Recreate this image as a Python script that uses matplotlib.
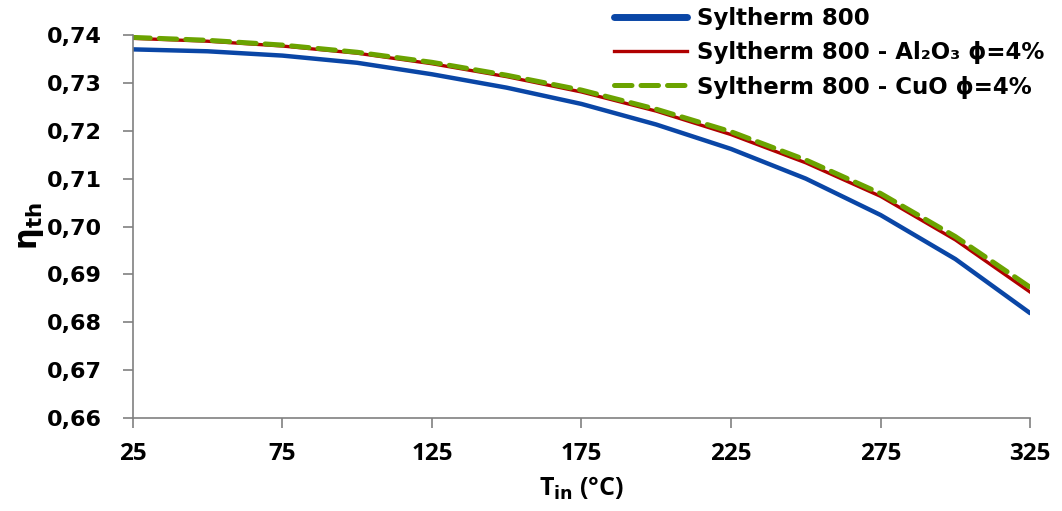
import matplotlib
matplotlib.use("Agg")
import matplotlib.pyplot as plt

# inlet temperature (°C)
t_in = [25, 50, 75, 100, 125, 150, 175, 200, 225, 250, 275, 300, 325]

# thermal efficiency
eta_syltherm = [0.7370, 0.7366, 0.7357, 0.7342, 0.7318, 0.7290, 0.7256,
                0.7213, 0.7162, 0.7100, 0.7024, 0.6932, 0.6819]
eta_al2o3 = [0.7393, 0.7387, 0.7377, 0.7362, 0.7340, 0.7313, 0.7281,
             0.7241, 0.7192, 0.7133, 0.7063, 0.6972, 0.6863]
eta_cuo = [0.7395, 0.7389, 0.7379, 0.7364, 0.7343, 0.7316, 0.7285,
           0.7245, 0.7198, 0.7139, 0.7069, 0.6979, 0.6873]

labels = ["Syltherm 800",
          "Syltherm 800 - Al\u2082O\u2083 \u03d5=4%",
          "Syltherm 800 - CuO \u03d5=4%"]
xticks = [25, 75, 125, 175, 225, 275, 325]
yticks = [0.66, 0.67, 0.68, 0.69, 0.70, 0.71, 0.72, 0.73, 0.74]

fig = plt.figure(figsize=(10.62, 5.11), dpi=100)
ax = fig.add_axes([0.125, 0.182, 0.845, 0.7495])

ax.plot(t_in, eta_syltherm, color="#0A46A6", lw=3.2, label=labels[0],
        solid_capstyle="round")
ax.plot(t_in, eta_al2o3, color="#B00000", lw=2.4, label=labels[1])
ax.plot(t_in, eta_cuo, color="#6BA300", lw=3.6, ls=(0, (3.5, 1.8)),
        label=labels[2], dash_capstyle="round")

ax.set_xlim(25, 325)
ax.set_ylim(0.66, 0.74)
ax.set_xticks(xticks)
ax.set_xticklabels([str(x) for x in xticks], fontfamily="Open Sans",
                   fontweight="bold", fontsize=17.5)
ax.set_yticks(yticks)
ax.set_yticklabels([f"{y:.2f}".replace(".", ",") for y in yticks],
                   fontfamily="DejaVu Sans", fontweight="bold", fontsize=16)

for side in ["top", "right"]:
    ax.spines[side].set_visible(False)
for side in ["left", "bottom"]:
    ax.spines[side].set_color("#808080")
    ax.spines[side].set_linewidth(1.2)
ax.tick_params(axis="both", direction="out", length=7.5, width=1.2,
               color="#808080")
ax.tick_params(axis="y", pad=15)
ax.tick_params(axis="x", pad=10)

ax.set_xlabel(r"T$_{\mathbf{in}}$ (°C)", fontsize=18, fontweight="bold",
              fontfamily="Open Sans", labelpad=6)
ax.set_ylabel(r"η$_{\mathbf{th}}$", fontsize=22, fontweight="bold",
              fontfamily="DejaVu Sans", labelpad=0)

leg = ax.legend(loc="upper left", bbox_to_anchor=(0.565, 1.014),
                bbox_transform=fig.transFigure, frameon=False,
                prop={"family": "DejaVu Sans", "weight": "bold", "size": 16.5},
                handlelength=3.2, handletextpad=0.45, labelspacing=0.5,
                borderaxespad=0.2)
leg.get_lines()[0].set_linewidth(5)

fig.savefig("out.png", dpi=100)
